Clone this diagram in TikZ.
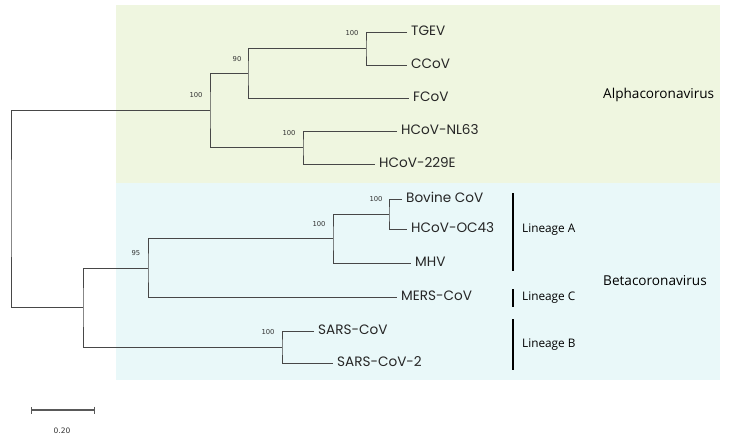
\documentclass[tikz,border=0pt]{standalone}
\usepackage{fontspec}
\setmainfont{Open Sans}
\newfontfamily\leaffont{Poppins}
\newfontfamily\bootfont{DejaVu Sans}
\usetikzlibrary{positioning,arrows.meta}
\definecolor{alphabg}{HTML}{EFF6E0}
\definecolor{betabg}{HTML}{E9F8F9}

\begin{document}
\begin{tikzpicture}[x=1pt,y=-1pt]
		\tikzstyle{branch}=[draw=black!72,line width=0.8pt]
		\tikzstyle{leaf}=[anchor=west,inner xsep=4pt,inner ysep=0pt,text height=0.7em,text depth=0pt,font=\leaffont\fontsize{13.6}{15}\selectfont,text=black!85]
		\tikzstyle{boot}=[inner sep=0pt,font=\bootfont\fontsize{6.8}{8}\selectfont,text=black!80]
		\tikzstyle{clade}=[anchor=west,inner sep=0pt,text height=0.72em,text depth=0pt,font=\fontsize{13.6}{16}\selectfont]
		\tikzstyle{lineage}=[anchor=west,inner sep=0pt,text height=0.72em,text depth=0pt,font=\fontsize{11.8}{14}\selectfont]
		\tikzstyle{bar}=[draw=black,line width=1.2pt]

		\useasboundingbox (0,0) rectangle (731,440);
		\fill[alphabg] (116,5) rectangle (720,183);
		\fill[betabg] (116,183) rectangle (720,380);

		% internal nodes
		\coordinate (root) at (11,208);
		\coordinate (nalpha) at (210,110);
		\coordinate (n90) at (248,73);
		\coordinate (ntg) at (366,48);
		\coordinate (nnl) at (303,147);
		\coordinate (nbeta) at (83,307);
		\coordinate (n95) at (148,268);
		\coordinate (nA) at (333,238);
		\coordinate (nbov) at (389,214);
		\coordinate (nsars) at (282,347);

		% leaves
		\node[leaf](tgev) at (407,32){TGEV};
		\node[leaf](ccov) at (407,65){CCoV};
		\node[leaf](fcov) at (409,98){FCoV};
		\node[leaf](nl63) at (397,131){HCoV-NL63};
		\node[leaf](e229) at (375,164){HCoV-229E};
		\node[leaf](bov) at (402,199){Bovine CoV};
		\node[leaf](oc43) at (407,229){HCoV-OC43};
		\node[leaf](mhv) at (411,263){MHV};
		\node[leaf](mers) at (397,297){MERS-CoV};
		\node[leaf](sars) at (314,331){SARS-CoV};
		\node[leaf](sars2) at (333,363){SARS-CoV-2};

		% bootstrap values
		\node[boot](b1) at (352,33){100};
		\node[boot](b2) at (237,59){90};
		\node[boot](b3) at (196,95){100};
		\node[boot](b4) at (289,133){100};
		\node[boot](b5) at (136,253){95};
		\node[boot](b6) at (319,224){100};
		\node[boot](b7) at (376,199){100};
		\node[boot](b8) at (268,332){100};

		\draw[branch] (nalpha) -| (root) |- (nbeta);
		\draw[branch] (n90) -| (nalpha) |- (nnl);
		\draw[branch] (ntg) -| (n90) |- (fcov.west);
		\draw[branch] (tgev.west) -| (ntg) |- (ccov.west);
		\draw[branch] (nl63.west) -| (nnl) |- (e229.west);

		\draw[branch] (n95) -| (nbeta) |- (nsars);
		\draw[branch] (nA) -| (n95) |- (mers.west);
		\draw[branch] (nbov) -| (nA) |- (mhv.west);
		\draw[branch] (bov.west) -| (nbov) |- (oc43.west);
		\draw[branch] (sars.west) -| (nsars) |- (sars2.west);

		% lineages and genera
		\draw[bar] (513,193) -- (513,271);
		\draw[bar] (513,289) -- (513,307);
		\draw[bar] (513,319) -- (513,370);
		\node[lineage](linA) at (522,229){Lineage A};
		\node[lineage](linC) at (522,297){Lineage C};
		\node[lineage](linB) at (522,344){Lineage B};
		\node[clade](alpha) at (603,95){Alphacoronavirus};
		\node[clade](beta) at (603,282){Betacoronavirus};

		% scale
		\coordinate (s0) at (31,410);
		\coordinate (s1) at (95,410);
		\draw[draw=black!65,line width=1.4pt,{Bar[width=7pt]}-{Bar[width=7pt]}] (s0) -- (s1);
		\node[boot,font=\bootfont\fontsize{7.5}{9}\selectfont](scale) at (62,431){0.20};
	\end{tikzpicture}
\end{document}
